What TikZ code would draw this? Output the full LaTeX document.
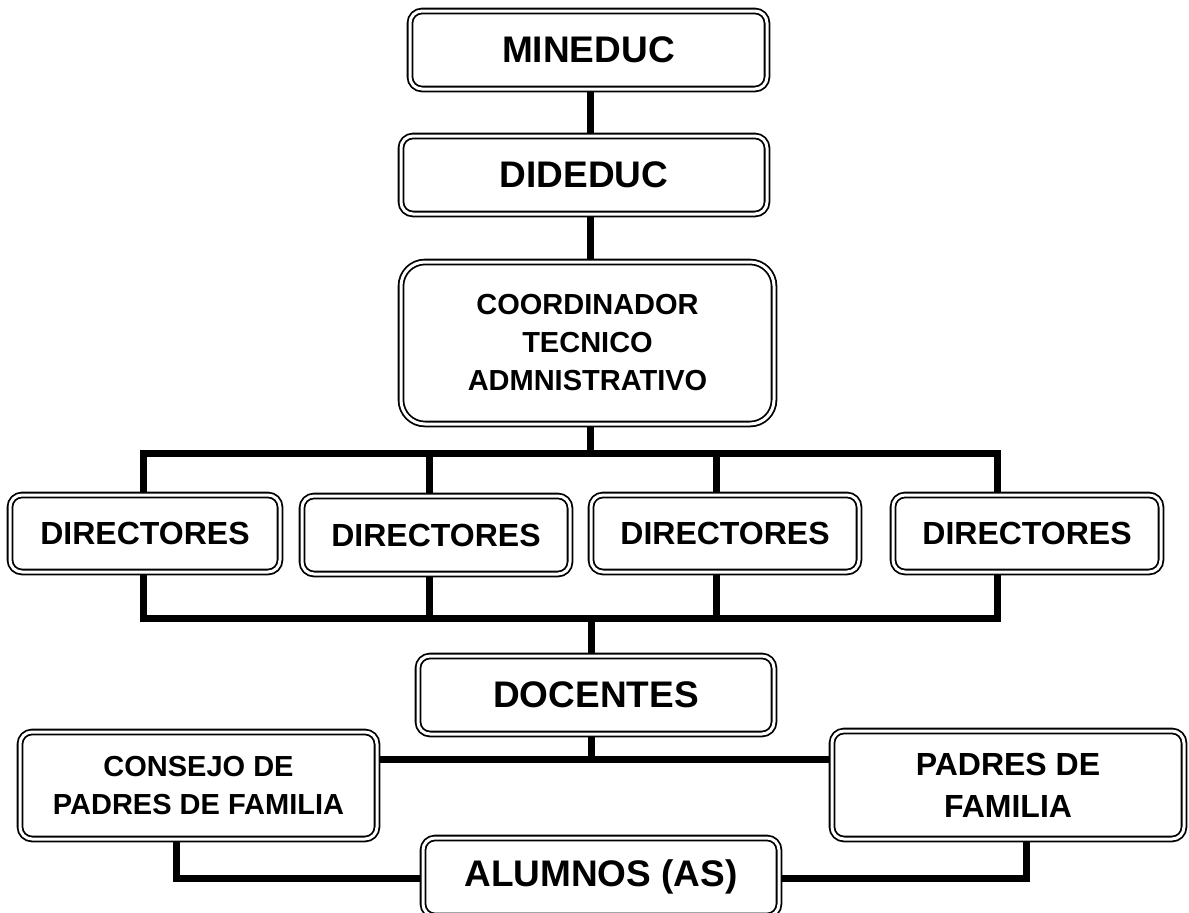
\documentclass[tikz,border=0pt]{standalone}
\usepackage{fontspec}
\setmainfont{Liberation Sans}
\usetikzlibrary{backgrounds}
\begin{document}
\begin{tikzpicture}[x=1pt,y=-1pt,
  box/.style={draw=black, double=white, line width=1.8pt, double distance=3pt, fill=white,
              rounded corners=12pt, align=center, inner sep=0pt},
  bigf/.style={font=\bfseries\fontsize{37}{44}\selectfont},
  dirf/.style={font=\bfseries\fontsize{32}{42}\selectfont},
  midf/.style={font=\bfseries\fontsize{29}{38}\selectfont},
  link/.style={line width=7pt, line join=miter, line cap=rect}]
\useasboundingbox (0,0) rectangle (1189,913);

\node[box, bigf, minimum width=357, minimum height=78] (min) at (588.5,50) {MINEDUC};
\node[box, bigf, minimum width=366, minimum height=78] (did) at (584,175) {DIDEDUC};
\node[box, midf, rounded corners=24pt, minimum width=373, minimum height=162] (coord) at (587.5,343)
  {COORDINADOR\\TECNICO\\ADMNISTRATIVO};
\node[box, dirf, minimum width=270, minimum height=77] (d1) at (145,533.5) {DIRECTORES};
\node[box, dirf, minimum width=268, minimum height=78] (d2) at (436,535) {DIRECTORES};
\node[box, dirf, minimum width=268, minimum height=77] (d3) at (725,533.5) {DIRECTORES};
\node[box, dirf, minimum width=268, minimum height=77] (d4) at (1027,533.5) {DIRECTORES};
\node[box, bigf, minimum width=356, minimum height=78] (doc) at (596,695) {DOCENTES};
\node[box, midf, minimum width=357, minimum height=107] (cons) at (198.5,785.5)
  {CONSEJO DE\\PADRES DE FAMILIA};
\node[box, dirf, minimum width=352, minimum height=108] (pad) at (1008,785) {PADRES DE\\FAMILIA};
\node[box, bigf, minimum width=356, minimum height=78] (alu) at (601,877) {ALUMNOS (AS)};

\coordinate (sp) at (590,0);
\coordinate (sq) at (591,0);
\coordinate (bt) at (0,453);
\coordinate (bb) at (0,618);
\coordinate (c1) at (143,0);
\coordinate (c2) at (429,0);
\coordinate (c3) at (716,0);
\coordinate (c4) at (997,0);
\coordinate (h) at (0,759);
\coordinate (a) at (0,878);
\coordinate (cx) at (176,0);
\coordinate (px) at (1026,0);

\begin{pgfonlayer}{background}
\fill[white] (0,0) rectangle (1189,913);
\draw[link] (min.south -| sp) -- (did.north -| sp);
\draw[link] (did.south -| sp) -- (coord.north -| sp);
\draw[link] (coord.south -| sp) -- (sp |- bt);
\draw[link] (d1.north -| c1) -- (c1 |- bt) -- (c4 |- bt) -- (d4.north -| c4);
\draw[link] (d2.north -| c2) -- (c2 |- bt);
\draw[link] (d3.north -| c3) -- (c3 |- bt);
\draw[link] (d1.south -| c1) -- (c1 |- bb) -- (c4 |- bb) -- (d4.south -| c4);
\draw[link] (d2.south -| c2) -- (c2 |- bb);
\draw[link] (d3.south -| c3) -- (c3 |- bb);
\draw[link] (sq |- bb) -- (doc.north -| sq);
\draw[link] (doc.south -| sq) -- (sq |- h);
\draw[link] (cons.east |- h) -- (pad.west |- h);
\draw[link] (cons.south -| cx) -- (cx |- a) -- (alu.west |- a);
\draw[link] (pad.south -| px) -- (px |- a) -- (alu.east |- a);
\end{pgfonlayer}
\end{tikzpicture}
\end{document}
